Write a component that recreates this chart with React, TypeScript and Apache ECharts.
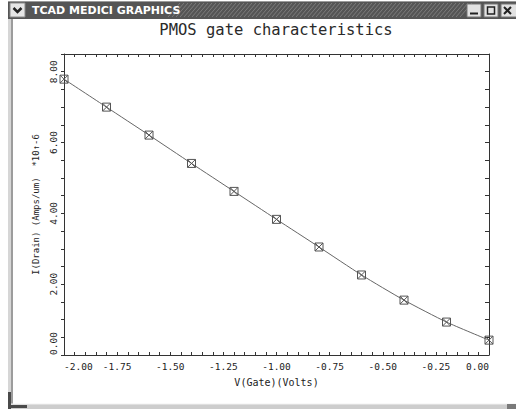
import React, { useEffect, useRef } from "react";
import * as echarts from "echarts";

const gateVolts = [-2.0, -1.8, -1.6, -1.4, -1.2, -1.0, -0.8, -0.6, -0.4, -0.2, 0.0];
const drainCurrent = [7.79, 7.0, 6.21, 5.41, 4.62, 3.83, 3.05, 2.26, 1.55, 0.93, 0.42];
const chartTitle = "PMOS gate characteristics";
const windowTitle = "TCAD MEDICI GRAPHICS";
const xName = "V(Gate)(Volts)";
const yName = "I(Drain) (Amps/um)  *10\u2191-6";

const MONO = "DejaVu Sans Mono";

function isMultiple(v: number, step: number) {
  const r = v / step;
  return Math.abs(r - Math.round(r)) < 1e-6;
}

function chrome(): any[] {
  const els: any[] = [];
  // title bar
  els.push({ type: "rect", shape: { x: 8, y: 1, width: 508, height: 18 }, style: { fill: "#555555" } });
  els.push({ type: "line", shape: { x1: 8, y1: 1.5, x2: 516, y2: 1.5 }, style: { stroke: "#9a9a9a", lineWidth: 1 } });
  for (let x = 168; x < 462; x += 4) {
    els.push({ type: "line", shape: { x1: x, y1: 17, x2: x + 12, y2: 3 }, style: { stroke: "#7c7c7c", lineWidth: 1 } });
  }
  els.push({ type: "rect", shape: { x: 10, y: 3, width: 15, height: 14 }, style: { fill: "#e6e6e6", stroke: "#8a8a8a", lineWidth: 1 } });
  els.push({ type: "polyline", shape: { points: [[13.5, 8], [17.5, 12], [21.5, 8]] }, style: { stroke: "#222", lineWidth: 2.5, fill: "none" } });
  els.push({
    type: "text", x: 32, y: 10.5,
    style: { text: windowTitle, fill: "#ffffff", font: "bold 11px 'DejaVu Sans'", verticalAlign: "middle", align: "left" },
  });
  // buttons
  els.push({ type: "rect", shape: { x: 467, y: 4, width: 14, height: 13 }, style: { fill: "#e2e2e2", stroke: "#777", lineWidth: 1 } });
  els.push({ type: "line", shape: { x1: 470, y1: 13.5, x2: 478, y2: 13.5 }, style: { stroke: "#222", lineWidth: 2 } });
  els.push({ type: "rect", shape: { x: 484, y: 4, width: 14, height: 13 }, style: { fill: "#e2e2e2", stroke: "#777", lineWidth: 1 } });
  els.push({ type: "rect", shape: { x: 487.5, y: 7, width: 7, height: 7 }, style: { fill: "none", stroke: "#222", lineWidth: 1.5 } });
  els.push({ type: "rect", shape: { x: 501, y: 4, width: 16, height: 13 }, style: { fill: "#e2e2e2", stroke: "#777", lineWidth: 1 } });
  els.push({ type: "line", shape: { x1: 504, y1: 7, x2: 511, y2: 14 }, style: { stroke: "#222", lineWidth: 2 } });
  els.push({ type: "line", shape: { x1: 511, y1: 7, x2: 504, y2: 14 }, style: { stroke: "#222", lineWidth: 2 } });
  // left border
  els.push({ type: "rect", shape: { x: 8, y: 19, width: 3, height: 388 }, style: { fill: "#d6d6d6" } });
  els.push({ type: "rect", shape: { x: 11, y: 19, width: 2, height: 388 }, style: { fill: "#9c9c9c" } });
  // bottom border
  els.push({ type: "rect", shape: { x: 8, y: 404, width: 508, height: 5 }, style: { fill: "#cdcdcd" } });
  els.push({ type: "line", shape: { x1: 8, y1: 404, x2: 516, y2: 404 }, style: { stroke: "#f2f2f2", lineWidth: 1 } });
  els.push({ type: "rect", shape: { x: 8, y: 392, width: 3, height: 17 }, style: { fill: "#4a4a4a" } });
  els.push({ type: "rect", shape: { x: 8, y: 405, width: 19, height: 3 }, style: { fill: "#4a4a4a" } });
  els.push({ type: "rect", shape: { x: 507, y: 404, width: 9, height: 5 }, style: { fill: "#7a7a7a" } });
  // chart title
  els.push({
    type: "text", x: 276, y: 30,
    style: { text: chartTitle, fill: "#2a2a2a", font: `15.5px '${MONO}'`, align: "center", verticalAlign: "middle" },
  });
  return els;
}

export default function App() {
  const ref = useRef<HTMLDivElement>(null);
  useEffect(() => {
    if (!ref.current) return;
    const chart = echarts.init(ref.current, undefined, { renderer: "svg" });
    const axisColor = "#333";
    const labelStyle = { color: "#222", fontFamily: MONO, fontSize: 9.5 };
    chart.setOption({
      animation: false,
      backgroundColor: "#ffffff",
      grid: { left: 64, right: 27, top: 54, bottom: 55, containLabel: false },
      graphic: { elements: chrome() },
      xAxis: [
        {
          type: "value", min: -2, max: 0, interval: 0.05, position: "bottom",
          name: xName, nameLocation: "middle", nameGap: 22,
          nameTextStyle: { color: "#222", fontFamily: MONO, fontSize: 10 },
          axisLine: { show: true, onZero: false, lineStyle: { color: axisColor, width: 1 } },
          axisTick: { show: true, inside: true, length: 3, lineStyle: { color: axisColor } },
          splitLine: { show: false },
          axisLabel: {
            ...labelStyle, margin: 6,
            alignMinLabel: "left", alignMaxLabel: "right",
            formatter: (v: number) => (isMultiple(v, 0.25) ? (Math.abs(v) < 1e-9 ? 0 : v).toFixed(2) : ""),
          },
        },
        {
          type: "value", min: -2, max: 0, interval: 0.05, position: "top",
          axisLine: { show: true, onZero: false, lineStyle: { color: axisColor, width: 1 } },
          axisTick: { show: true, inside: true, length: 3, lineStyle: { color: axisColor } },
          axisLabel: { show: false }, splitLine: { show: false },
        },
      ],
      yAxis: [
        {
          type: "value", min: 0, max: 8.5, interval: 0.5, position: "left",
          name: yName, nameLocation: "middle", nameGap: 24, nameRotate: 90,
          nameTextStyle: { color: "#222", fontFamily: MONO, fontSize: 9 },
          axisLine: { show: true, onZero: false, lineStyle: { color: axisColor, width: 1 } },
          axisTick: { show: true, inside: false, length: 3, lineStyle: { color: axisColor } },
          splitLine: { show: false },
          axisLabel: {
            ...labelStyle, margin: 6, rotate: 90,
            alignMinLabel: "left",
            formatter: (v: number) => (isMultiple(v, 2) ? v.toFixed(2) : ""),
          },
        },
        {
          type: "value", min: 0, max: 8.5, interval: 0.5, position: "right",
          axisLine: { show: true, onZero: false, lineStyle: { color: axisColor, width: 1 } },
          axisTick: { show: true, inside: true, length: 4, lineStyle: { color: axisColor } },
          axisLabel: { show: false }, splitLine: { show: false },
        },
      ],
      series: [
        {
          type: "line",
          xAxisIndex: 0, yAxisIndex: 0,
          data: gateVolts.map((v, i) => [v, drainCurrent[i]]),
          smooth: 0.2,
          symbol: "path://M0 0H10V10H0Z M0 0L10 10 M10 0L0 10",
          symbolSize: 8,
          itemStyle: { color: "none", borderColor: "#555", borderWidth: 1 },
          lineStyle: { color: "#666", width: 1 },
          clip: true,
        },
      ],
    });
    return () => chart.dispose();
  }, []);
  return (
    <div style={{ position: "absolute", left: 0, top: 0, width: 516, height: 410, background: "#fff" }}>
      <div ref={ref} style={{ width: 516, height: 410 }} />
    </div>
  );
}
